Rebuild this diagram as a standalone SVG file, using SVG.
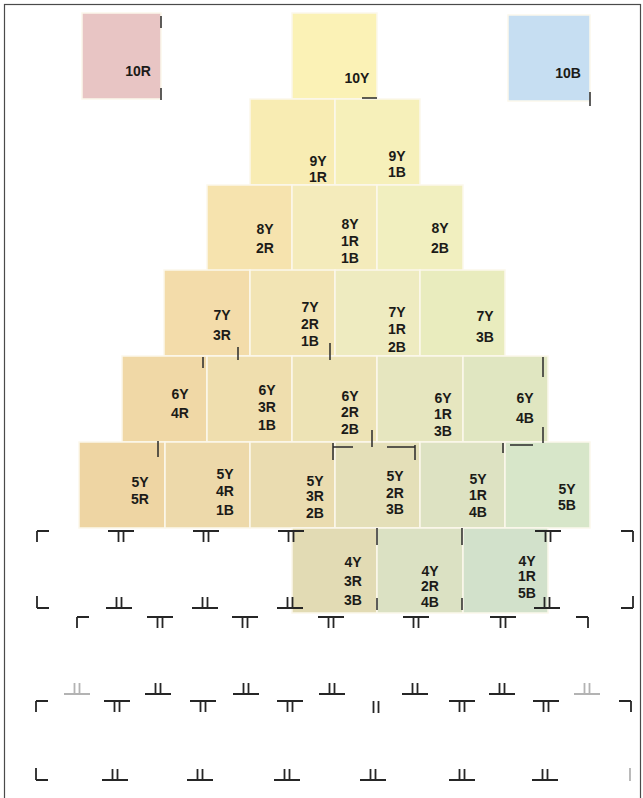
<svg xmlns="http://www.w3.org/2000/svg" xmlns:xlink="http://www.w3.org/1999/xlink" width="643" height="798" viewBox="0 0 643 798">
<style>
.sq{stroke:#fbf8ec;stroke-width:1.5}
.lbl{font-family:"Liberation Sans Narrow","Liberation Sans",Arial,sans-serif;font-weight:bold;font-size:14px;fill:#1b1b18;text-anchor:middle}
.mk{fill:none;stroke:#262626;stroke-width:1.8;stroke-linecap:butt}
.tk{fill:none;stroke:#2a2a2a;stroke-width:1.5}
.faint{opacity:0.35}
</style>
<defs>
<path id="tt" d="M-13,0H13M-2.5,0V11M2.5,0V11"/>
<path id="bb" d="M-13,0H13M-2.5,0V-11M2.5,0V-11"/>
<path id="tl" d="M0,0H12M0,0V11"/>
<path id="tr" d="M0,0H-12M0,0V11"/>
<path id="bl" d="M0,0H12M0,0V-12"/>
<path id="br" d="M0,0H-12M0,0V-12"/>
<path id="vv" d="M-2.5,-6V6M2.5,-6V6"/>
</defs>
<rect x="0" y="0" width="643" height="798" fill="#ffffff"/>
<rect x="4.5" y="4.5" width="636" height="800" fill="none" stroke="#4a4a4a" stroke-width="1.2"/>

<g id="n-10R"><rect class="sq" x="82" y="13" width="79" height="86" fill="#e8c5c4"/><text class="lbl" x="138" y="76">10R</text></g>
<g id="n-10Y"><rect class="sq" x="292" y="13" width="85" height="86" fill="#fbf2b6"/><text class="lbl" x="357" y="83">10Y</text></g>
<g id="n-10B"><rect class="sq" x="508" y="15" width="82" height="86" fill="#c6def2"/><text class="lbl" x="568" y="78">10B</text></g>

<g id="n-9Y1R"><rect class="sq" x="250" y="99" width="85" height="86" fill="#f8ecb3"/><text class="lbl" x="318" y="166">9Y<tspan x="318" dy="16">1R</tspan></text></g>
<g id="n-9Y1B"><rect class="sq" x="335" y="99" width="85" height="86" fill="#f6f0ba"/><text class="lbl" x="397" y="161">9Y<tspan x="397" dy="16">1B</tspan></text></g>

<g id="n-8Y2R"><rect class="sq" x="207" y="185" width="85" height="86" fill="#f6e3ae"/><text class="lbl" x="265" y="234">8Y<tspan x="265" dy="19">2R</tspan></text></g>
<g id="n-8Y1R1B"><rect class="sq" x="292" y="185" width="85" height="86" fill="#f4ebbb"/><text class="lbl" x="350" y="229">8Y<tspan x="350" dy="17">1R</tspan><tspan x="350" dy="17">1B</tspan></text></g>
<g id="n-8Y2B"><rect class="sq" x="377" y="185" width="86" height="86" fill="#f1efbf"/><text class="lbl" x="440" y="233">8Y<tspan x="440" dy="20">2B</tspan></text></g>

<g id="n-7Y3R"><rect class="sq" x="164" y="270" width="86" height="86" fill="#f3dcaa"/><text class="lbl" x="222" y="320">7Y<tspan x="222" dy="20">3R</tspan></text></g>
<g id="n-7Y2R1B"><rect class="sq" x="250" y="270" width="85" height="86" fill="#f2e4b4"/><text class="lbl" x="310" y="312">7Y<tspan x="310" dy="17">2R</tspan><tspan x="310" dy="17">1B</tspan></text></g>
<g id="n-7Y1R2B"><rect class="sq" x="335" y="270" width="85" height="86" fill="#eeebc0"/><text class="lbl" x="397" y="317">7Y<tspan x="397" dy="17">1R</tspan><tspan x="397" dy="18">2B</tspan></text></g>
<g id="n-7Y3B"><rect class="sq" x="420" y="270" width="85" height="86" fill="#e9ecbe"/><text class="lbl" x="485" y="321">7Y<tspan x="485" dy="21">3B</tspan></text></g>

<g id="n-6Y4R"><rect class="sq" x="122" y="356" width="85" height="86" fill="#f0d8a6"/><text class="lbl" x="180" y="399">6Y<tspan x="180" dy="19">4R</tspan></text></g>
<g id="n-6Y3R1B"><rect class="sq" x="207" y="356" width="85" height="86" fill="#efdeae"/><text class="lbl" x="267" y="395">6Y<tspan x="267" dy="17">3R</tspan><tspan x="267" dy="18">1B</tspan></text></g>
<g id="n-6Y2R2B"><rect class="sq" x="292" y="356" width="85" height="86" fill="#ede3b5"/><text class="lbl" x="350" y="401">6Y<tspan x="350" dy="16">2R</tspan><tspan x="350" dy="17">2B</tspan></text></g>
<g id="n-6Y1R3B"><rect class="sq" x="377" y="356" width="86" height="86" fill="#e6e6bf"/><text class="lbl" x="443" y="403">6Y<tspan x="443" dy="16">1R</tspan><tspan x="443" dy="17">3B</tspan></text></g>
<g id="n-6Y4B"><rect class="sq" x="463" y="356" width="85" height="86" fill="#e0e6c1"/><text class="lbl" x="525" y="403">6Y<tspan x="525" dy="20">4B</tspan></text></g>

<g id="n-5Y5R"><rect class="sq" x="79" y="442" width="86" height="86" fill="#eed5a3"/><text class="lbl" x="140" y="487">5Y<tspan x="140" dy="17">5R</tspan></text></g>
<g id="n-5Y4R1B"><rect class="sq" x="165" y="442" width="85" height="86" fill="#edd9aa"/><text class="lbl" x="225" y="479">5Y<tspan x="225" dy="17">4R</tspan><tspan x="225" dy="19">1B</tspan></text></g>
<g id="n-5Y3R2B"><rect class="sq" x="250" y="442" width="85" height="86" fill="#eadcb0"/><text class="lbl" x="315" y="486">5Y<tspan x="315" dy="15">3R</tspan><tspan x="315" dy="17">2B</tspan></text></g>
<g id="n-5Y2R3B"><rect class="sq" x="335" y="442" width="85" height="86" fill="#e4dfb8"/><text class="lbl" x="395" y="481">5Y<tspan x="395" dy="17">2R</tspan><tspan x="395" dy="16">3B</tspan></text></g>
<g id="n-5Y1R4B"><rect class="sq" x="420" y="442" width="85" height="86" fill="#dde2c2"/><text class="lbl" x="478" y="484">5Y<tspan x="478" dy="16">1R</tspan><tspan x="478" dy="17">4B</tspan></text></g>
<g id="n-5Y5B"><rect class="sq" x="505" y="442" width="85" height="86" fill="#d7e6c9"/><text class="lbl" x="567" y="494">5Y<tspan x="567" dy="16">5B</tspan></text></g>

<g id="n-4Y3R3B"><rect class="sq" x="292" y="528" width="85" height="85" fill="#e2dbb4"/><text class="lbl" x="353" y="567">4Y<tspan x="353" dy="19">3R</tspan><tspan x="353" dy="19">3B</tspan></text></g>
<g id="n-4Y2R4B"><rect class="sq" x="377" y="528" width="86" height="85" fill="#dbe1c3"/><text class="lbl" x="430" y="576">4Y<tspan x="430" dy="15">2R</tspan><tspan x="430" dy="16">4B</tspan></text></g>
<g id="n-4Y1R5B"><rect class="sq" x="463" y="528" width="85" height="85" fill="#d2e1cb"/><text class="lbl" x="527" y="566">4Y<tspan x="527" dy="15">1R</tspan><tspan x="527" dy="17">5B</tspan></text></g>

<g id="ticks" class="tk">
<path d="M161,16V28M161,88V100M590,92V106M362,98H377"/>
<path d="M203,357V368M158,441V457M330,343V360M238,347V360M333,443V460M333,447H353M415,445V460M387,447H415M372,430V447M503,443V453M510,445H533M543,357V377M543,427V443"/>
<path d="M377,528V545M462,528V545M377,598V610M462,598V610"/>
</g>

<g id="crop-marks" class="mk">
<use href="#tl" x="37" y="531"/>
<use href="#tt" x="121" y="531"/>
<use href="#tt" x="206" y="531"/>
<use href="#tt" x="291" y="531"/>
<use href="#tt" x="548" y="531"/>
<use href="#tr" x="633" y="531"/>

<use href="#bl" x="37" y="608"/>
<use href="#bb" x="119" y="608"/>
<use href="#bb" x="205" y="608"/>
<use href="#bb" x="290" y="608"/>
<use href="#bb" x="547" y="608"/>
<use href="#br" x="633" y="608"/>

<use href="#tl" x="77" y="617"/>
<use href="#tt" x="160" y="617"/>
<use href="#tt" x="245" y="617"/>
<use href="#tt" x="331" y="617"/>
<use href="#tt" x="416" y="617"/>
<use href="#tt" x="503" y="617"/>
<use href="#tr" x="588" y="617"/>

<use href="#bb" x="77" y="694" class="faint"/>
<use href="#bb" x="158" y="694"/>
<use href="#bb" x="246" y="694"/>
<use href="#bb" x="332" y="694"/>
<use href="#bb" x="415" y="694"/>
<use href="#bb" x="502" y="694"/>
<use href="#bb" x="587" y="694" class="faint"/>

<use href="#tl" x="36" y="701"/>
<use href="#tt" x="117" y="701"/>
<use href="#tt" x="203" y="701"/>
<use href="#tt" x="290" y="701"/>
<use href="#vv" x="376" y="707"/>
<use href="#tt" x="462" y="701"/>
<use href="#tt" x="546" y="701"/>
<use href="#tr" x="631" y="701"/>

<use href="#bl" x="36" y="780"/>
<use href="#bb" x="115" y="780"/>
<use href="#bb" x="200" y="780"/>
<use href="#bb" x="287" y="780"/>
<use href="#bb" x="373" y="780"/>
<use href="#bb" x="462" y="780"/>
<use href="#bb" x="545" y="780"/>
<path d="M630,768V781" class="faint"/>
</g>
</svg>
